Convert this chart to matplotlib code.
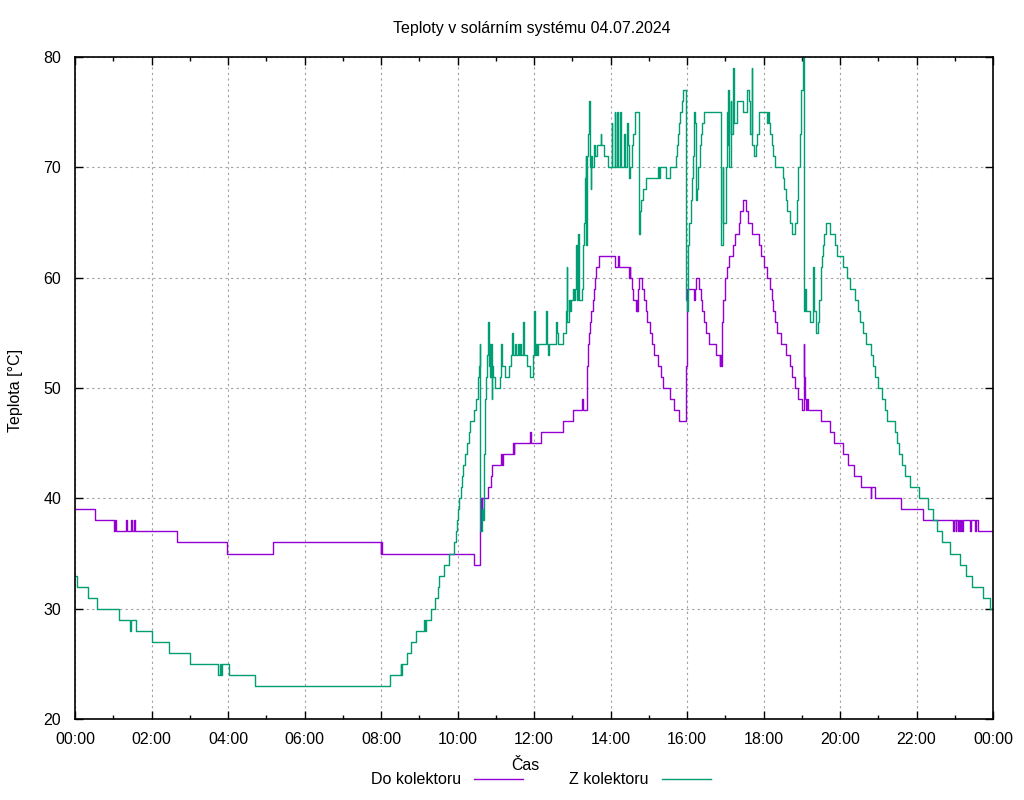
import matplotlib
matplotlib.use("Agg")
import matplotlib.pyplot as plt
from matplotlib.ticker import MultipleLocator, FuncFormatter

plt.rcParams['font.family'] = ['Liberation Sans', 'DejaVu Sans']
plt.rcParams['font.size'] = 11.5

# cas v hodinach (0-24), teplota ve °C - schodovite hodnoty
do_cas = [0.00, 0.52, 1.02, 1.05, 1.07, 1.33, 1.35, 1.46, 1.48, 1.54, 1.56, 2.67, 3.97, 5.17,
          7.99, 8.00, 8.02, 10.43, 10.59, 10.61, 10.63, 10.65, 10.81, 10.87, 10.91, 11.15,
          11.17, 11.19, 11.45, 11.47, 11.48, 11.89, 11.91, 12.18, 12.75, 13.03, 13.25, 13.27,
          13.39, 13.42, 13.45, 13.47, 13.50, 13.53, 13.56, 13.59, 13.63, 13.70, 14.13, 14.19,
          14.22, 14.48, 14.50, 14.51, 14.55, 14.60, 14.66, 14.68, 14.69, 14.72, 14.74, 14.82,
          14.88, 14.92, 14.96, 15.03, 15.08, 15.14, 15.24, 15.31, 15.38, 15.56, 15.67, 15.80,
          15.97, 15.99, 16.17, 16.18, 16.19, 16.21, 16.23, 16.31, 16.36, 16.40, 16.44, 16.49,
          16.58, 16.77, 16.86, 16.87, 16.89, 16.92, 16.95, 16.99, 17.04, 17.11, 17.21, 17.25,
          17.37, 17.39, 17.46, 17.54, 17.60, 17.70, 17.88, 17.93, 18.00, 18.08, 18.17, 18.21,
          18.25, 18.29, 18.34, 18.47, 18.60, 18.69, 18.75, 18.82, 18.90, 19.00, 19.05, 19.07,
          19.09, 19.12, 19.15, 19.16, 19.50, 19.74, 19.85, 20.07, 20.22, 20.37, 20.55, 20.80,
          20.82, 20.91, 21.59, 22.16, 22.95, 22.97, 23.02, 23.04, 23.08, 23.10, 23.14, 23.16,
          23.20, 23.22, 23.40, 23.42, 23.52, 23.55, 23.62, 24.00]
do_teplota = [39, 38, 37, 38, 37, 38, 37, 38, 37, 38, 37, 36, 35, 36,
              35, 36, 35, 34, 37, 40, 38, 40, 41, 42, 43, 44,
              43, 44, 45, 44, 45, 46, 45, 46, 47, 48, 49, 48,
              52, 54, 55, 56, 57, 58, 59, 60, 61, 62, 61, 62,
              61, 60, 61, 60, 59, 58, 57, 58, 57, 59, 60, 59,
              58, 57, 56, 55, 54, 53, 52, 51, 50, 49, 48, 47,
              52, 59, 58, 59, 58, 59, 60, 59, 58, 57, 56, 55,
              54, 53, 52, 53, 52, 56, 58, 60, 61, 62, 63, 64,
              65, 66, 67, 66, 65, 64, 63, 62, 61, 60, 59, 58,
              57, 56, 55, 54, 53, 52, 51, 50, 49, 48, 54, 51,
              49, 48, 49, 48, 47, 46, 45, 44, 43, 42, 41, 40,
              41, 40, 39, 38, 37, 38, 37, 38, 37, 38, 37, 38,
              37, 38, 37, 38, 37, 38, 37, 37]

z_cas = [0.00, 0.05, 0.35, 0.57, 1.15, 1.45, 1.47, 1.60, 2.00, 2.46, 3.00, 3.74, 3.78, 3.82,
         3.84, 4.03, 4.71, 8.24, 8.52, 8.53, 8.55, 8.67, 8.78, 8.92, 9.13, 9.15, 9.17, 9.31,
         9.42, 9.48, 9.52, 9.65, 9.78, 9.92, 9.96, 9.99, 10.02, 10.05, 10.08, 10.12, 10.15,
         10.20, 10.24, 10.29, 10.33, 10.44, 10.48, 10.53, 10.56, 10.58, 10.59, 10.60, 10.63,
         10.67, 10.70, 10.73, 10.75, 10.78, 10.80, 10.82, 10.84, 10.85, 10.87, 10.89, 10.91,
         10.93, 10.98, 11.10, 11.13, 11.16, 11.24, 11.35, 11.39, 11.43, 11.45, 11.50, 11.53,
         11.57, 11.60, 11.63, 11.66, 11.72, 11.74, 11.81, 11.90, 11.98, 12.01, 12.03, 12.06,
         12.08, 12.11, 12.31, 12.33, 12.35, 12.37, 12.40, 12.58, 12.61, 12.64, 12.77, 12.84,
         12.85, 12.87, 12.92, 12.94, 12.98, 13.01, 13.04, 13.07, 13.11, 13.13, 13.15, 13.17,
         13.25, 13.29, 13.31, 13.33, 13.35, 13.37, 13.39, 13.42, 13.44, 13.46, 13.48, 13.50,
         13.52, 13.57, 13.59, 13.66, 13.74, 13.76, 13.83, 13.94, 14.03, 14.05, 14.11, 14.13,
         14.18, 14.20, 14.25, 14.27, 14.36, 14.38, 14.42, 14.45, 14.48, 14.51, 14.55, 14.59,
         14.63, 14.74, 14.77, 14.81, 14.86, 14.93, 15.25, 15.27, 15.29, 15.45, 15.56, 15.71,
         15.75, 15.77, 15.80, 15.83, 15.86, 15.90, 15.97, 15.99, 16.03, 16.06, 16.10, 16.12,
         16.15, 16.18, 16.21, 16.24, 16.27, 16.30, 16.34, 16.37, 16.40, 16.44, 16.88, 16.90,
         16.93, 16.95, 17.01, 17.04, 17.06, 17.08, 17.11, 17.14, 17.16, 17.21, 17.23, 17.30,
         17.47, 17.58, 17.62, 17.65, 17.69, 17.71, 17.75, 17.80, 17.84, 17.87, 18.10, 18.12,
         18.14, 18.17, 18.21, 18.26, 18.30, 18.50, 18.54, 18.59, 18.62, 18.69, 18.74, 18.82,
         18.87, 18.91, 18.95, 18.98, 19.02, 19.05, 19.07, 19.09, 19.11, 19.22, 19.29, 19.31,
         19.37, 19.42, 19.46, 19.50, 19.52, 19.55, 19.58, 19.63, 19.74, 19.87, 19.93, 20.09,
         20.17, 20.26, 20.39, 20.46, 20.52, 20.59, 20.68, 20.80, 20.85, 20.92, 21.00, 21.09,
         21.18, 21.24, 21.44, 21.48, 21.55, 21.61, 21.70, 21.83, 22.07, 22.31, 22.42, 22.53,
         22.66, 22.88, 23.14, 23.29, 23.46, 23.73, 23.92, 24.00]
z_teplota = [33, 32, 31, 30, 29, 28, 29, 28, 27, 26, 25, 24, 25, 24,
             25, 24, 23, 24, 25, 24, 25, 26, 27, 28, 29, 28, 29, 30,
             31, 32, 33, 34, 35, 36, 37, 38, 39, 40, 41, 42, 43,
             44, 45, 46, 47, 48, 49, 51, 52, 54, 47, 37, 39,
             38, 44, 49, 51, 53, 56, 52, 54, 51, 54, 49, 52,
             51, 50, 51, 54, 52, 51, 52, 53, 55, 53, 54, 53,
             54, 53, 54, 53, 56, 53, 52, 51, 53, 57, 53, 54,
             53, 54, 57, 55, 54, 53, 54, 56, 55, 54, 55, 57,
             61, 56, 58, 57, 58, 59, 58, 59, 63, 58, 64, 58,
             59, 63, 65, 69, 71, 63, 71, 73, 76, 70, 68, 71,
             70, 72, 71, 72, 73, 72, 71, 70, 74, 70, 75, 70,
             75, 70, 75, 70, 73, 70, 74, 72, 69, 70, 72, 73,
             75, 64, 66, 67, 68, 69, 70, 69, 70, 69, 70, 71,
             72, 73, 74, 75, 76, 77, 58, 57, 63, 65, 67, 69,
             71, 75, 74, 67, 68, 70, 72, 73, 74, 75, 74, 63,
             70, 65, 70, 75, 72, 77, 70, 76, 73, 79, 74, 76,
             75, 77, 76, 73, 79, 72, 71, 72, 73, 75, 74, 75,
             74, 73, 72, 71, 70, 69, 68, 67, 66, 65, 64, 65,
             67, 70, 73, 77, 80, 62, 57, 59, 57, 56, 61, 57,
             55, 56, 58, 61, 62, 63, 64, 65, 64, 63, 62, 61,
             60, 59, 58, 57, 56, 55, 54, 53, 52, 51, 50, 49,
             48, 47, 46, 45, 44, 43, 42, 41, 40, 39, 38, 37,
             36, 35, 34, 33, 32, 31, 30, 30]

fig = plt.figure(figsize=(10.24, 8.0), dpi=100)
ax = fig.add_axes([75 / 1024, 1 - 719 / 800, 918 / 1024, 662 / 800])

ax.step(do_cas, do_teplota, where='post', color='#9400D3', lw=1.0, label='Do kolektoru')
ax.step(z_cas, z_teplota, where='post', color='#009E73', lw=1.0, label='Z kolektoru')

ax.set_xlim(0, 24)
ax.set_ylim(20, 80)
ax.xaxis.set_major_locator(MultipleLocator(2))
ax.xaxis.set_minor_locator(MultipleLocator(1))
ax.yaxis.set_major_locator(MultipleLocator(10))
ax.xaxis.set_major_formatter(FuncFormatter(lambda x, pos: '%02d:00' % (int(round(x)) % 24)))

ax.tick_params(which='both', direction='in', top=True, right=True, width=1.0)
ax.tick_params(which='major', length=6)
ax.tick_params(which='minor', length=3)
ax.tick_params(axis='x', pad=9)
ax.tick_params(axis='y', pad=10)
for s in ax.spines.values():
    s.set_linewidth(1.2)

ax.grid(True, which='major', color='#a0a0a0', linestyle=(0, (2, 3)), lw=0.8)
ax.set_axisbelow(True)

fig.text(532 / 1024, 1 - 28 / 800, 'Teploty v solárním systému 04.07.2024', ha='center', va='center')
fig.text(16 / 1024, 1 - 390 / 800, 'Teplota [°C]', rotation=90, ha='center', va='center')
fig.text(525 / 1024, 1 - 765 / 800, 'Čas', ha='center', va='center')

fig.legend(loc='center', bbox_to_anchor=(541 / 1024, 1 - 780 / 800), ncol=2, frameon=False,
           markerfirst=False, handlelength=3.1, handletextpad=0.8, columnspacing=2.9)

fig.savefig('out.png', dpi=100)
